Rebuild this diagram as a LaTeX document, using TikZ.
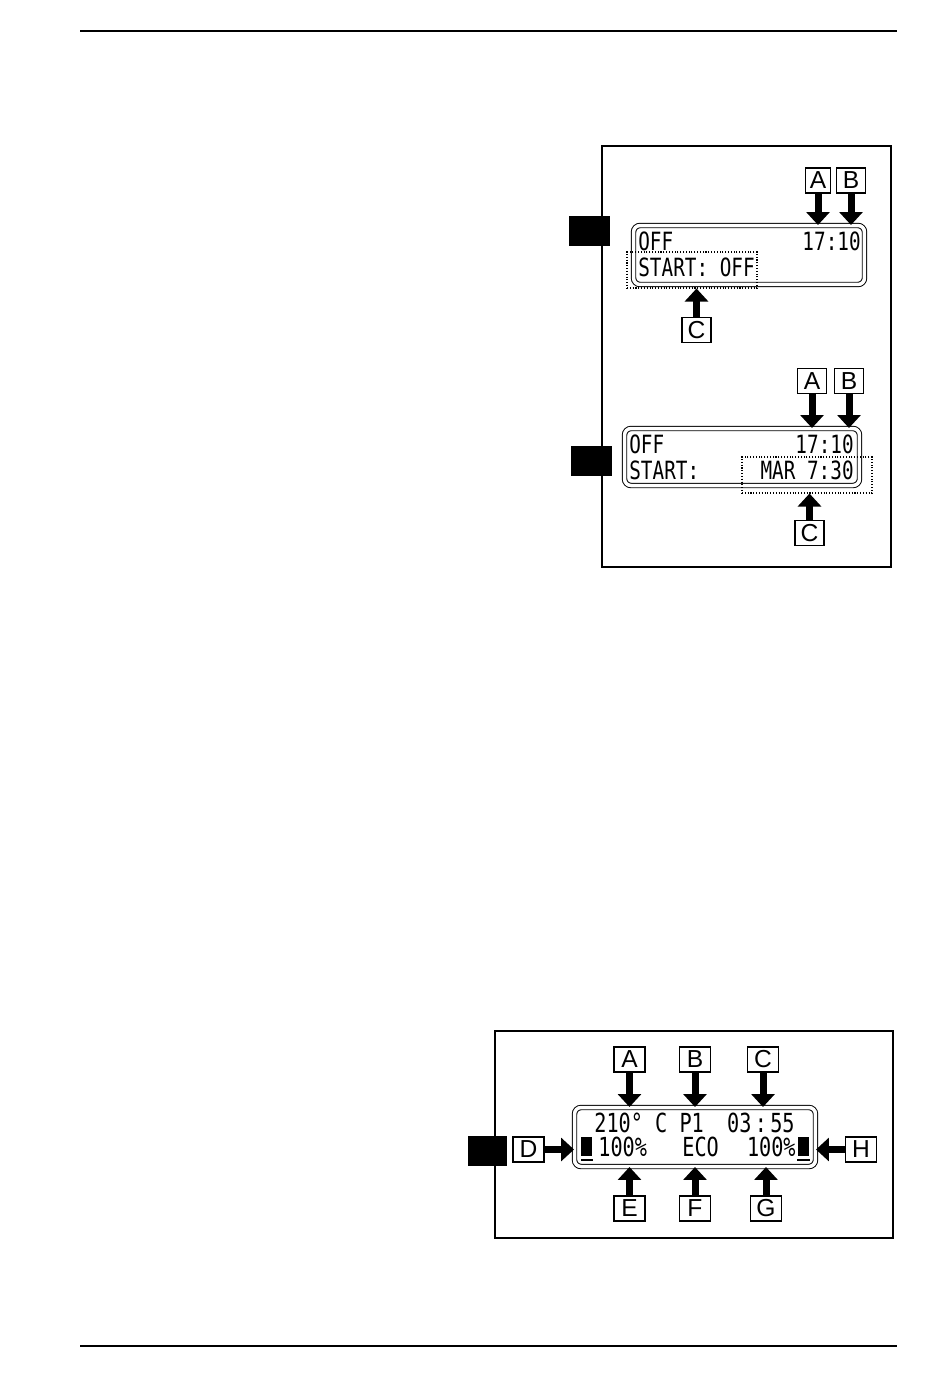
\documentclass[tikz,border=0pt]{standalone}
\usepackage{graphicx}
\usepackage{fontspec}
\setmainfont{Liberation Sans}
\newfontfamily\lcdfont{DejaVu Sans Mono}
\usetikzlibrary{positioning,arrows.meta}
\newcommand{\lcdtext}[1]{\scalebox{1}[1.3]{#1}}

\begin{document}
\begin{tikzpicture}[
        x=0.02cm, y=-0.02cm,
        panel/.style={draw, line width=0.6pt},
        tab/.style={fill=black, inner sep=0pt, minimum width=0.82cm, minimum height=0.6cm},
        display/.style={draw, double, line width=0.55pt, double distance=0.07cm, rounded corners=0.13cm, inner sep=0pt},
        lcd/.style={font=\lcdfont\fontsize{11}{11}\selectfont, inner sep=0pt},
        biglcd/.style={font=\lcdfont\fontsize{11.5}{11.5}\selectfont, inner sep=0pt},
        field/.style={draw, densely dotted, line width=0.6pt, inner sep=0pt, minimum width=2.6cm, minimum height=0.72cm},
        tag/.style={draw, line width=1.1pt, inner sep=0pt, minimum width=0.58cm, minimum height=0.5cm, font=\fontsize{14}{14}\selectfont},
        widetag/.style={tag, minimum width=0.62cm},
        pointer/.style={-{Triangle[width=0.46cm,length=0.26cm]}, line width=0.14cm}
    ]
    \useasboundingbox (0,0) rectangle (950,1379);

    % Page rules
    \draw[line width=0.6pt] (80,31) -- (897,31);
    \draw[line width=0.6pt] (80,1346) -- (897,1346);

    % Panel one
    \draw[panel] (602,146) rectangle (891,567);
    \node[tab] (tab_one) at (589.5,231) {};
    \node[tab] (tab_two) at (591.5,460.5) {};

    % First display
    \node[display, minimum width=4.62cm, minimum height=1.18cm] (disp_one) at (749,255) {};
    \node[lcd, anchor=base west] (off_one) at (638,250) {\lcdtext{OFF}};
    \node[lcd, anchor=base east] (time_one) at (861,250) {\lcdtext{17:10}};
    \node[lcd, anchor=base west] (start_one) at (638,276) {\lcdtext{START: OFF}};
    \node[field] (field_one) at (692,270) {};

    \node[tag, minimum width=0.5cm] (tag_a_one) at (818,180.5) {A};
    \node[tag] (tag_b_one) at (851,180.5) {B};
    \node[tag] (tag_c_one) at (696.5,330) {C};

    \draw[pointer] (tag_a_one.south) -- (tag_a_one.south |- disp_one.north);
    \draw[pointer] (tag_b_one.south) -- (tag_b_one.south |- disp_one.north);
    \draw[pointer] (tag_c_one.north) -- (tag_c_one.north |- field_one.south);

    % Second display
    \node[display, minimum width=4.7cm, minimum height=1.14cm] (disp_two) at (742,457) {};
    \node[lcd, anchor=base west] (off_two) at (629,453) {\lcdtext{OFF}};
    \node[lcd, anchor=base east] (time_two) at (854,453) {\lcdtext{17:10}};
    \node[lcd, anchor=base west] (start_two) at (629,479) {\lcdtext{START:}};
    \node[lcd, anchor=base east] (date_two) at (854,479) {\lcdtext{MAR 7:30}};
    \node[field] (field_two) at (807,475) {};

    \node[tag] (tag_a_two) at (812,381) {A};
    \node[tag] (tag_b_two) at (849,381) {B};
    \node[tag] (tag_c_two) at (809.5,533) {C};

    \draw[pointer] (tag_a_two.south) -- (tag_a_two.south |- disp_two.north);
    \draw[pointer] (tag_b_two.south) -- (tag_b_two.south |- disp_two.north);
    \draw[pointer] (tag_c_two.north) -- (tag_c_two.north |- field_two.south);

    % Panel two
    \draw[panel] (495,1031) rectangle (893,1238);
    \node[tab, minimum width=0.78cm] (tab_three) at (487.5,1151) {};

    % Third display
    \node[display, minimum width=4.82cm, minimum height=1.18cm] (disp_three) at (695,1137) {};
    \node[biglcd, anchor=base west] (temp_three) at (594,1132) {\lcdtext{210° C P1}};
    \node[biglcd, anchor=base east] (clock_three) at (795,1132) {\lcdtext{03\,:\,55}};
    \node[biglcd, anchor=base west] (left_three) at (598,1156) {\lcdtext{100\%}};
    \node[biglcd, anchor=base west] (eco_three) at (682,1156) {\lcdtext{ECO}};
    \node[biglcd, anchor=base east] (right_three) at (796,1156) {\lcdtext{100\%}};
    \fill (581,1137) rectangle (592,1156);
    \draw[line width=0.6pt] (581,1160) -- (593,1160);
    \fill (798,1137) rectangle (809,1156);
    \draw[line width=0.6pt] (797,1160) -- (810,1160);

    \node[widetag] (tag_a) at (629.5,1059.5) {A};
    \node[widetag] (tag_b) at (695,1059.5) {B};
    \node[widetag] (tag_c) at (763,1059.5) {C};
    \node[widetag] (tag_d) at (528.5,1149.5) {D};
    \node[widetag] (tag_h) at (861,1149.5) {H};
    \node[widetag] (tag_e) at (629.5,1208.5) {E};
    \node[widetag] (tag_f) at (695,1208.5) {F};
    \node[widetag] (tag_g) at (766,1208.5) {G};

    \draw[pointer] (tag_a.south) -- (tag_a.south |- disp_three.north);
    \draw[pointer] (tag_b.south) -- (tag_b.south |- disp_three.north);
    \draw[pointer] (tag_c.south) -- (tag_c.south |- disp_three.north);
    \draw[pointer] (tag_e.north) -- (tag_e.north |- disp_three.south);
    \draw[pointer] (tag_f.north) -- (tag_f.north |- disp_three.south);
    \draw[pointer] (tag_g.north) -- (tag_g.north |- disp_three.south);
    \draw[pointer] (tag_d.east) -- (tag_d.east -| disp_three.west);
    \draw[pointer] (tag_h.west) -- (tag_h.west -| disp_three.east);
\end{tikzpicture}
\end{document}
